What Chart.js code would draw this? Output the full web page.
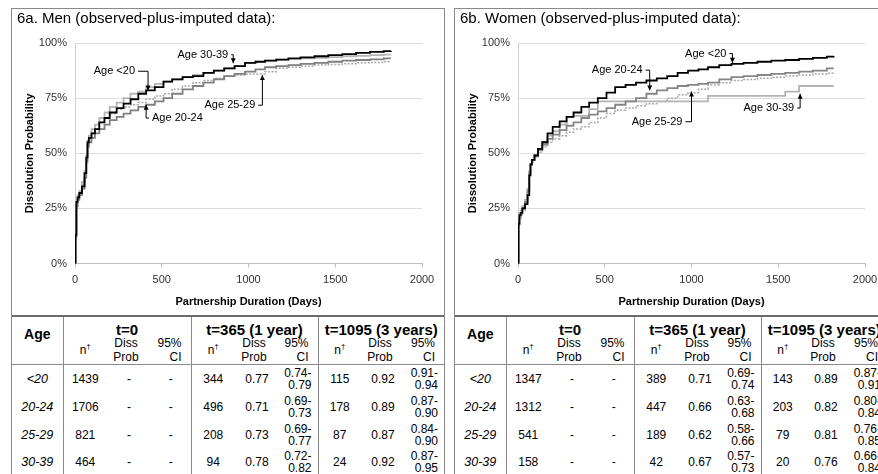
<!DOCTYPE html>
<html>
<head>
<meta charset="utf-8">
<script src="https://cdn.jsdelivr.net/npm/chart.js@4.4.0/dist/chart.umd.min.js"></script>
<style>
  html, body { margin: 0; padding: 0; background: #fff; width: 878px; height: 474px; overflow: hidden;
    font-family: 'Liberation Sans', Arial, sans-serif; }
  .panel { position: absolute; top: 8px; width: 432px; height: 470px; border: 1px solid #8a8a8a; border-bottom: none; }
  .panel canvas { display: block; }
  table { position: absolute; left: 0; top: 306px; border-collapse: collapse; table-layout: fixed; width: 432px;
    border-top: 2px solid #6b6b6b; color: #000; }
  td, th { padding: 0; text-align: center; font-size: 12px; white-space: nowrap; overflow: visible; }
  tr.h1 { height: 20px; }
  tr.h1 th { font-size: 15px; font-weight: bold; vertical-align: bottom; line-height: 12px; }
  th.age { vertical-align: top !important; padding-top: 10px; line-height: 14px !important; font-size: 14px !important;
    border-bottom: 1px solid #8a8a8a; }
  tr.h2 { height: 27px; border-bottom: 1px solid #8a8a8a; }
  tr.h2 td { font-size: 12px; line-height: 14px; vertical-align: middle; }
  tr.h2 td.dp { padding-right: 6px; }
  tr.h2 td.ci { text-align: right; padding-right: 9px; }
  tr.r { height: 28px; }
  tr.r td { vertical-align: middle; line-height: 12px; }
  tr.r td.ci { text-align: right; padding-right: 6px; }
  tr.r:last-child { border-bottom: 1px solid #c8c8c8; }
  td.age i { font-size: 12.5px; }
  .g { border-left: 1px solid #8a8a8a; }
  sup { font-size: 8px; line-height: 0; }
</style>
</head>
<body>
<div class="panel" style="left:11px"><canvas id="men" width="432" height="306"></canvas><table id="menTable"></table></div>
<div class="panel" style="left:454px"><canvas id="women" width="432" height="306"></canvas><table id="womenTable"></table></div>
<script>
// Kaplan-Meier style curves (percent dissolved by day)
const days = [0,3,8,15,25,40,55,65,72,80, 95,115,140,170,200, 240,280,320,365,410, 460,510,560,620,680,
  740,800,860,920,980, 1040,1095,1160,1230,1300, 1380,1460,1540,1620,1700, 1780,1820];

const men20 = [0,13,28,30,32,35,41,48,55,57, 59,61,64,66,68.5, 70.5,72.5,74.5,77,78.5, 80,82.5,83.5,84.5,85,
  86.5,87.5,88.5,89.5,91, 91.5,92,92.5,93,93.5, 94,94.5,95,95.5,96, 96.3,96.5];
const men2024 = [0,12,26,29,31,34,39,46,53,55, 57,59,61,63,65, 66.5,68,69.5,71,72, 73.5,75,77,79,80.5,
  82,83.5,85,86,87, 88,89,89.5,90,90.5, 91,91.5,92,92.3,92.6, 93,93];
const men2529 = [0,11,25,29,32,36,41,48,54,57, 59,61,64,66,68, 70,71,72,73,74.5, 76,77,79,80.5,82,
  83,84,85,85.5,86, 86,87,88.5,89,89.5, 90,90.3,90.6,91,91.2, 91.5,91.5];
const men3039 = [0,13,28,31,33,37,42,49,56,58, 61,63,66,68.5,71, 73,75,77,78,80, 81.5,82.5,83.5,84.5,85.5,
  86.5,87.5,88.5,89.5,91, 91.5,92,92.5,92.8,93, 93.3,93.6,94,94.2,94.5, 94.7,94.8];

const women20 = [0,18,22,23,25,27,31,40,45,47, 49,52,55,59,62, 64.5,66.5,68.5,71,73, 75,77.5,80,81,82,
  83,84,85,86.5,87.5, 88,89,90,90.5,91, 91.5,92,92.3,92.8,93.3, 93.8,94];
const women2024 = [0,18,21,23,25,28,33,41,45,47, 49,51.5,54,56.5,58.5, 60.5,62.5,64,66,67.5, 69,70.5,72,73.5,75,
  77,78.5,79.5,80.5,81, 81.5,82,83.5,84.5,85, 85.5,86,86.5,87,87.5, 88.5,88.5];
const women2529 = [0,17,20,22,24,28,33,40,44,46, 48,50.5,53,55,56.5, 58,59.5,61,62,64, 66,68,69.5,70.5,71.5,
  72.5,73.5,75,76.5,77.5, 79,81,82,83,83.5, 84,84.5,85,85.5,86, 86.3,86.3];
const women3039 = [0,18,21,24,26,29,34,42,45,47, 49,52,55,58,60, 63,66.5,67,67,70, 73.5,73.5,73.5,73.5,73.5,
  73.5,73.5,73.5,73.5,73.5, 73.5,76,76,76,76, 76,76,78,80.5,80.5, 80.5,80.5];

// table values
const ageGroups = ['<20', '20-24', '25-29', '30-39'];
const menN0 = [1439, 1706, 821, 464];
const menN365 = [344, 496, 208, 94];
const menP365 = ['0.77', '0.71', '0.73', '0.78'];
const menCI365 = [['0.74', '0.79'], ['0.69', '0.73'], ['0.69', '0.77'], ['0.72', '0.82']];
const menN1095 = [115, 178, 87, 24];
const menP1095 = ['0.92', '0.89', '0.87', '0.92'];
const menCI1095 = [['0.91', '0.94'], ['0.87', '0.90'], ['0.84', '0.90'], ['0.87', '0.95']];

const womenN0 = [1347, 1312, 541, 158];
const womenN365 = [389, 447, 189, 42];
const womenP365 = ['0.71', '0.66', '0.62', '0.67'];
const womenCI365 = [['0.69', '0.74'], ['0.63', '0.68'], ['0.58', '0.66'], ['0.57', '0.73']];
const womenN1095 = [143, 203, 79, 20];
const womenP1095 = ['0.89', '0.82', '0.81', '0.76'];
const womenCI1095 = [['0.87', '0.91'], ['0.80', '0.84'], ['0.76', '0.85'], ['0.66', '0.84']];

// callout labels (data coords: text edge and arrow tip)
const menCallouts = [
  { text: 'Age 30-39', textDay: 883, textProb: 94.7, tipDay: 912, tipProb: 90.8 },
  { text: 'Age <20', textDay: 346, textProb: 87.2, tipDay: 421, tipProb: 78.5 },
  { text: 'Age 25-29', textDay: 1039, textProb: 71.8, tipDay: 1080, tipProb: 85.5 },
  { text: 'Age 20-24', textDay: 444, textProb: 66, tipDay: 410, tipProb: 72 }
];
const womenCallouts = [
  { text: 'Age <20', textDay: 1201, textProb: 95.2, tipDay: 1236, tipProb: 91 },
  { text: 'Age 20-24', textDay: 718, textProb: 87.7, tipDay: 759, tipProb: 78.5 },
  { text: 'Age 25-29', textDay: 948, textProb: 64.3, tipDay: 1000, tipProb: 78 },
  { text: 'Age 30-39', textDay: 1592, textProb: 70.5, tipDay: 1626, tipProb: 77 }
];

Chart.defaults.font.family = "'Liberation Sans', Arial, sans-serif";

const calloutPlugin = {
  id: 'callouts',
  afterDatasetsDraw(chart, args, opts) {
    const { ctx, scales: { x, y } } = chart;
    ctx.save();
    ctx.font = "11px 'Liberation Sans', Arial, sans-serif";
    ctx.fillStyle = '#000';
    ctx.strokeStyle = '#000';
    ctx.lineWidth = 1;
    ctx.textBaseline = 'middle';
    (opts.items || []).forEach(it => {
      const tx = x.getPixelForValue(it.textDay), ty = y.getPixelForValue(it.textProb);
      const px = x.getPixelForValue(it.tipDay), py = y.getPixelForValue(it.tipProb);
      const leftOfTip = tx < px;
      ctx.textAlign = leftOfTip ? 'right' : 'left';
      ctx.fillText(it.text, tx, ty);
      const sx = leftOfTip ? tx + 3 : tx - 3;
      ctx.beginPath();
      ctx.moveTo(sx, ty);
      ctx.lineTo(px, ty);
      ctx.lineTo(px, py);
      ctx.stroke();
      const dir = py > ty ? 1 : -1;
      ctx.beginPath();
      ctx.moveTo(px, py);
      ctx.lineTo(px - 2.5, py - dir * 5);
      ctx.lineTo(px + 2.5, py - dir * 5);
      ctx.closePath();
      ctx.fill();
    });
    ctx.restore();
  }
};

function series(label, values, color, width, dash) {
  return {
    label,
    data: days.map((d, i) => ({ x: d, y: values[i] })),
    borderColor: color, borderWidth: width, borderDash: dash || [],
    stepped: true, pointRadius: 0, fill: false
  };
}

function makeChart(id, title, datasets, callouts) {
  return new Chart(document.getElementById(id), {
    type: 'line',
    data: { datasets },
    options: {
      responsive: false, animation: false, devicePixelRatio: 1,
      layout: { padding: { left: 5, right: 22, top: 0, bottom: 0 } },
      plugins: {
        legend: { display: false }, tooltip: { enabled: false },
        title: { display: true, text: title, align: 'start', color: '#000',
          font: { size: 15, weight: 'normal' }, padding: { top: 1, bottom: 15 } },
        callouts: { items: callouts }
      },
      scales: {
        x: {
          type: 'linear', min: 0, max: 2000,
          ticks: { stepSize: 500, callback: v => String(v), color: '#333', font: { size: 11 }, padding: 6, maxRotation: 0 },
          grid: { drawOnChartArea: false, drawTicks: true, tickLength: 4, color: '#bfbfbf' },
          border: { color: '#bfbfbf' },
          title: { display: true, text: 'Partnership Duration (Days)', color: '#000',
            font: { size: 11, weight: 'bold' }, padding: { top: 3, bottom: 6 } }
        },
        y: {
          min: 0, max: 100,
          ticks: { stepSize: 25, callback: v => v + '%', color: '#333', font: { size: 11 }, padding: 8 },
          grid: { color: '#dcdcdc', drawTicks: false },
          border: { color: '#d0d0d0' },
          title: { display: true, text: 'Dissolution Probability', color: '#000',
            font: { size: 11, weight: 'bold' }, padding: { top: 6, bottom: 0 } },
          afterFit(s) { s.width = 58; }
        }
      }
    },
    plugins: [calloutPlugin]
  });
}

makeChart('men', '6a. Men (observed-plus-imputed data):', [
  series('Age <20', men20, '#000000', 1.8),
  series('Age 20-24', men2024, '#7f7f7f', 1.8),
  series('Age 30-39', men3039, '#b5b5b5', 1.8),
  series('Age 25-29', men2529, '#a8a8a8', 1.5, [2, 1.5])
], menCallouts);

makeChart('women', '6b. Women (observed-plus-imputed data):', [
  series('Age <20', women20, '#000000', 1.8),
  series('Age 20-24', women2024, '#858585', 1.8),
  series('Age 30-39', women3039, '#b3b3b3', 1.8),
  series('Age 25-29', women2529, '#a8a8a8', 1.5, [2, 1.5])
], womenCallouts);

const esc = s => String(s).replace(/&/g, '&amp;').replace(/</g, '&lt;');
const colW = [44, 44, 40, 44, 44, 39, 43, 44, 39];

function buildTable(id, n0, n365, p365, ci365, n1095, p1095, ci1095) {
  let h = '<colgroup><col style="width:51px">' + colW.map(w => `<col style="width:${w}px">`).join('') + '</colgroup>';
  h += '<tr class="h1"><th rowspan="2" class="age">Age</th><th colspan="3" class="g">t=0</th>' +
       '<th colspan="3" class="g">t=365 (1 year)</th><th colspan="3" class="g">t=1095 (3 years)</th></tr>';
  h += '<tr class="h2">' + [0, 1, 2].map(() =>
       '<td class="g">n<sup>†</sup></td><td class="dp">Diss<br>Prob</td><td class="ci">95%<br>CI</td>').join('') + '</tr>';
  ageGroups.forEach((a, i) => {
    h += `<tr class="r"><td class="age"><i>${esc(a)}</i></td>` +
         `<td class="g">${n0[i]}</td><td>-</td><td>-</td>` +
         `<td class="g">${n365[i]}</td><td>${p365[i]}</td><td class="ci">${ci365[i][0]}-<br>${ci365[i][1]}</td>` +
         `<td class="g">${n1095[i]}</td><td>${p1095[i]}</td><td class="ci">${ci1095[i][0]}-<br>${ci1095[i][1]}</td></tr>`;
  });
  document.getElementById(id).innerHTML = h;
}

buildTable('menTable', menN0, menN365, menP365, menCI365, menN1095, menP1095, menCI1095);
buildTable('womenTable', womenN0, womenN365, womenP365, womenCI365, womenN1095, womenP1095, womenCI1095);
</script>
</body>
</html>
